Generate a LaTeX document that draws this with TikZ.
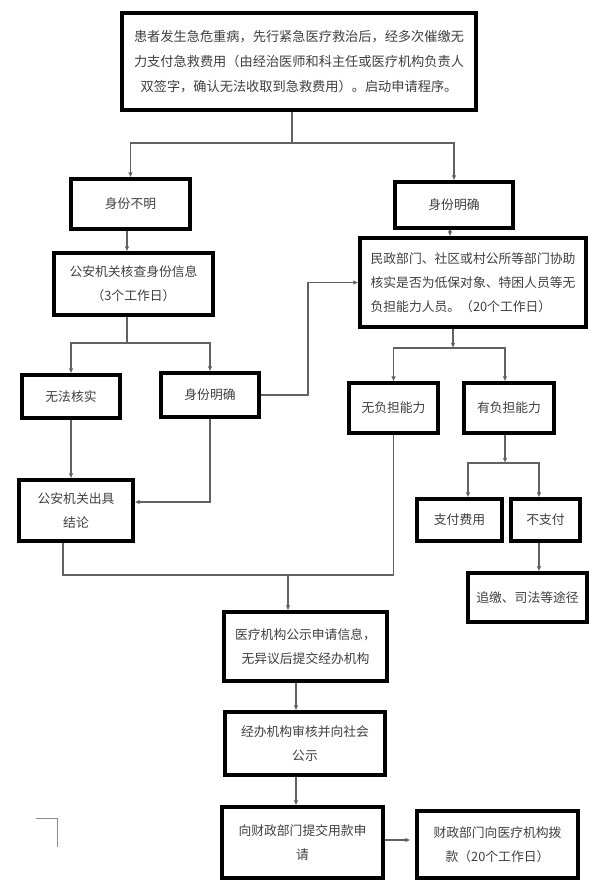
\documentclass[tikz,border=0pt]{standalone}
\usepackage{fontspec}
\setmainfont{Noto Sans CJK SC}
\usetikzlibrary{arrows.meta}
\begin{document}
\begin{tikzpicture}[x=1pt,y=-1pt,
  box/.style={draw=black,line width=3.2pt,fill=white,inner sep=0pt,align=center,
    text=black!75,font=\fontsize{12.8}{24}\selectfont},
  sz/.style 2 args={minimum width=#1pt,minimum height=#2pt},
  conn/.style={draw=black!62,line width=1.1pt},
  arr/.style={conn,-{Latex[length=5pt,width=4.5pt]}}]
\path[use as bounding box,fill=white] (0,0) rectangle (607,894);

% nodes
\node[box,sz={354}{97},font=\fontsize{13.2}{25}\selectfont] (top) at (299,61.5)
  {患者发生急危重病，先行紧急医疗救治后，经多次催缴无\\力支付急救费用（由经治医师和科主任或医疗机构负责人\\双签字，确认无法收取到急救费用）。启动申请程序。};
\node[box,sz={119}{50}] (bu) at (130.5,204) {身份不明};
\node[box,sz={118}{46}] (bm) at (454,205) {身份明确};
\node[box,sz={159}{62}] (ga) at (133.5,284) {公安机关核查身份信息\\（3个工作日）};
\node[box,sz={98}{43}] (wf) at (71,396.5) {无法核实};
\node[box,sz={98}{44}] (bm2) at (210,395) {身份明确};
\node[box,sz={226}{89},align=left] (mz) at (473,282.5)
  {民政部门、社区或村公所等部门协助\\核实是否为低保对象、特困人员等无\\负担能力人员。（20个工作日）};
\node[box,sz={89}{50}] (wfd) at (393.5,408) {无负担能力};
\node[box,sz={90}{50}] (yfd) at (509,408) {有负担能力};
\node[box,sz={85}{42}] (zf) at (459.5,520) {支付费用};
\node[box,sz={69}{42}] (bzf) at (545.5,520) {不支付};
\node[box,sz={119}{49}] (zj) at (527.5,597.5) {追缴、司法等途径};
\node[box,sz={114}{61}] (gajl) at (76,510.5) {公安机关出具\\结论};
\node[box,sz={163}{69}] (yl) at (305.5,646.5) {医疗机构公示申请信息，\\无异议后提交经办机构};
\node[box,sz={160}{63}] (jb) at (305,743.5) {经办机构审核并向社会\\公示};
\node[box,sz={161}{71}] (xcz) at (302.5,842.5) {向财政部门提交用款申\\请};
\node[box,sz={161}{67}] (cz) at (497.5,844.5) {财政部门向医疗机构拨\\款（20个工作日）};

% helper coordinates
\coordinate (s1) at (292,143);
\coordinate (s2) at (127,343);
\coordinate (c5) at (308,280);
\coordinate (c7) at (210,502);
\coordinate (s8) at (453,348);
\coordinate (s9) at (505,463);
\coordinate (a9) at (468,0);
\coordinate (a10) at (539,0);
\coordinate (a11) at (63,575);
\coordinate (m) at (288,575);
\coordinate (a12) at (296,0);
\coordinate (a14) at (0,840);
\coordinate (a4) at (450,0);

% connectors
\draw[conn] (top.south -| s1) -- (s1);
\draw[arr] (s1) -| (bu.north);
\draw[arr] (s1) -| (bm.north);
\draw[arr] (bu.south -| s2) -- (ga.north -| s2);
\draw[conn] (ga.south -| s2) -- (s2);
\draw[arr] (s2) -| (wf.north);
\draw[arr] (s2) -| (bm2.north);
\draw[arr] (bm.south -| a4) -- (mz.north -| a4);
\draw[arr] (bm2.east) -- (bm2.east -| c5) |- (mz.west);
\draw[arr] (wf.south) -- (wf.south |- gajl.north);
\draw[arr] (bm2.south) -- (c7) -- (c7 -| gajl.east);
\draw[arr] (mz.south -| s8) -- (s8);
\draw[arr] (s8) -| (wfd.north);
\draw[arr] (s8) -| (yfd.north -| s9);
\draw[arr] (yfd.south -| s9) -- (s9);
\draw[arr] (s9) -| (zf.north -| a9);
\draw[arr] (s9) -| (bzf.north -| a10);
\draw[arr] (bzf.south -| a10) -- (zj.north -| a10);
\draw[conn] (gajl.south -| a11) -- (a11) -- (a11 -| wfd.south) -- (wfd.south);
\draw[arr] (m) -- (m |- yl.north);
\draw[arr] (yl.south -| a12) -- (jb.north -| a12);
\draw[arr] (jb.south -| a12) -- (xcz.north -| a12);
\draw[arr,shorten >=5pt] (xcz.east |- a14) -- (cz.west |- a14);

% stray corner mark
\draw[black!45,line width=0.9pt] (36,818) -- (57,818) -- (57,847);
\end{tikzpicture}
\end{document}
